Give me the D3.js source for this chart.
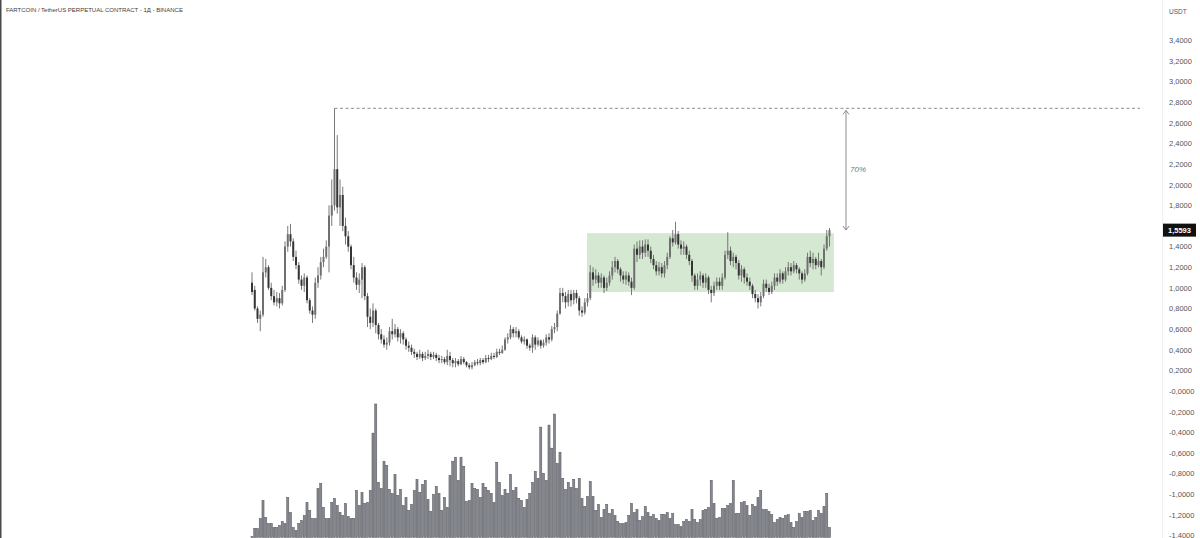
<!DOCTYPE html>
<html>
<head>
<meta charset="utf-8">
<script src="https://cdn.jsdelivr.net/npm/d3@7/dist/d3.min.js"></script>
<style>
html,body{margin:0;padding:0;background:#fff;}
svg{display:block;font-family:"Liberation Sans",Arial,sans-serif;}
</style>
</head>
<body>
<svg id="chart" width="1200" height="538"></svg>
<script>
const title = "FARTCOIN / TetherUS PERPETUAL CONTRACT - 1Д - BINANCE";
const currency = "USDT";

const opens = [1.05,0.98,0.80,0.70,0.74,1.15,1.20,1.00,0.92,0.86,
0.90,0.85,0.98,1.40,1.52,1.45,1.30,1.22,1.08,1.02,
1.10,0.88,0.78,0.74,1.05,1.12,1.25,1.30,1.40,1.70,
1.80,2.15,1.78,1.90,1.60,1.50,1.40,1.22,1.10,1.03,
1.08,1.20,0.92,0.72,0.66,0.78,0.64,0.55,0.50,0.45,
0.47,0.58,0.55,0.60,0.52,0.56,0.50,0.44,0.42,0.38,
0.36,0.33,0.36,0.32,0.34,0.36,0.33,0.35,0.32,0.30,
0.31,0.28,0.34,0.30,0.27,0.29,0.26,0.31,0.28,0.25,
0.23,0.25,0.28,0.27,0.30,0.28,0.32,0.31,0.34,0.33,
0.38,0.37,0.40,0.50,0.52,0.60,0.56,0.58,0.52,0.48,
0.50,0.44,0.42,0.52,0.45,0.49,0.44,0.47,0.52,0.50,
0.60,0.62,0.75,0.95,0.92,0.86,0.94,0.88,0.95,0.90,
0.78,0.76,0.86,0.90,1.15,1.08,1.12,1.05,1.10,1.00,
1.05,1.12,1.20,1.26,1.18,1.12,1.08,1.12,1.06,1.00,
1.38,1.32,1.40,1.34,1.42,1.36,1.28,1.22,1.16,1.20,
1.14,1.22,1.30,1.48,1.44,1.52,1.42,1.38,1.40,1.32,
1.26,1.12,1.02,1.08,1.12,1.05,1.10,0.98,0.95,1.02,
1.06,1.02,1.10,1.32,1.36,1.26,1.30,1.24,1.12,1.18,
1.10,1.06,1.02,0.94,0.90,0.86,0.92,1.04,1.00,0.96,
1.02,1.10,1.06,1.14,1.08,1.16,1.20,1.16,1.22,1.18,
1.14,1.08,1.14,1.30,1.24,1.28,1.22,1.26,1.20,1.38,
1.50];

const closes = [0.96,0.80,0.70,0.74,1.15,1.20,1.00,0.92,0.86,0.90,
0.85,0.98,1.40,1.52,1.45,1.30,1.22,1.08,1.02,1.10,
0.88,0.78,0.74,1.05,1.12,1.25,1.30,1.40,1.70,1.80,
2.15,1.78,1.90,1.60,1.50,1.40,1.22,1.10,1.03,1.08,
1.20,0.92,0.72,0.66,0.78,0.64,0.55,0.50,0.45,0.47,
0.58,0.55,0.60,0.52,0.56,0.50,0.44,0.42,0.38,0.36,
0.33,0.36,0.32,0.34,0.36,0.33,0.35,0.32,0.30,0.31,
0.28,0.34,0.30,0.27,0.29,0.26,0.31,0.28,0.25,0.23,
0.25,0.28,0.27,0.30,0.28,0.32,0.31,0.34,0.33,0.38,
0.37,0.40,0.50,0.52,0.60,0.56,0.58,0.52,0.48,0.50,
0.44,0.42,0.52,0.45,0.49,0.44,0.47,0.52,0.50,0.60,
0.62,0.75,0.95,0.92,0.86,0.94,0.88,0.95,0.90,0.78,
0.76,0.86,0.90,1.15,1.08,1.12,1.05,1.10,1.00,1.05,
1.12,1.20,1.26,1.18,1.12,1.08,1.12,1.06,1.00,1.38,
1.32,1.40,1.34,1.42,1.36,1.28,1.22,1.16,1.20,1.14,
1.22,1.30,1.48,1.44,1.52,1.42,1.38,1.40,1.32,1.26,
1.12,1.02,1.08,1.12,1.05,1.10,0.98,0.95,1.02,1.06,
1.02,1.10,1.32,1.36,1.26,1.30,1.24,1.12,1.18,1.10,
1.06,1.02,0.94,0.90,0.86,0.92,1.04,1.00,0.96,1.02,
1.10,1.06,1.14,1.08,1.16,1.20,1.16,1.22,1.18,1.14,
1.08,1.14,1.30,1.24,1.28,1.22,1.26,1.20,1.38,1.50,
1.5593];

const highs = [1.15,1.02,0.82,0.78,1.30,1.28,1.22,1.05,0.98,0.96,
0.95,1.02,1.45,1.60,1.62,1.48,1.36,1.25,1.12,1.14,
1.12,0.90,0.82,1.10,1.20,1.30,1.38,1.46,1.80,2.05,
2.74,2.48,2.05,1.98,1.68,1.55,1.42,1.30,1.15,1.14,
1.24,1.22,0.95,0.80,0.85,0.80,0.66,0.60,0.54,0.52,
0.62,0.70,0.65,0.62,0.60,0.58,0.52,0.48,0.45,0.41,
0.38,0.40,0.38,0.38,0.40,0.38,0.38,0.37,0.35,0.34,
0.33,0.40,0.38,0.32,0.32,0.31,0.34,0.33,0.29,0.27,
0.28,0.30,0.31,0.32,0.32,0.35,0.35,0.37,0.37,0.41,
0.41,0.44,0.52,0.56,0.64,0.62,0.62,0.60,0.54,0.53,
0.51,0.46,0.55,0.54,0.52,0.50,0.50,0.55,0.56,0.63,
0.66,0.78,1.00,1.00,0.96,0.98,0.98,0.98,0.98,0.92,
0.82,0.90,0.95,1.22,1.20,1.18,1.15,1.14,1.12,1.10,
1.16,1.26,1.30,1.28,1.20,1.16,1.16,1.15,1.10,1.42,
1.45,1.46,1.46,1.47,1.47,1.40,1.32,1.26,1.25,1.24,
1.26,1.34,1.50,1.56,1.64,1.55,1.46,1.45,1.42,1.36,
1.28,1.14,1.14,1.16,1.14,1.14,1.12,1.02,1.06,1.10,
1.10,1.14,1.36,1.54,1.40,1.34,1.32,1.27,1.22,1.20,
1.14,1.10,1.04,0.98,0.94,0.96,1.08,1.08,1.04,1.06,
1.14,1.14,1.18,1.16,1.20,1.25,1.24,1.26,1.24,1.20,
1.16,1.18,1.34,1.36,1.34,1.30,1.34,1.28,1.42,1.56,
1.58];

const lows = [0.93,0.78,0.66,0.58,0.72,1.10,0.98,0.88,0.83,0.82,
0.80,0.83,0.96,1.35,1.40,1.26,1.18,1.04,0.98,0.96,
0.85,0.75,0.66,0.70,1.00,1.08,1.20,1.28,1.15,1.60,
1.75,1.72,1.60,1.55,1.42,1.35,1.18,1.05,0.98,0.95,
0.90,0.88,0.62,0.60,0.62,0.56,0.50,0.46,0.42,0.40,
0.44,0.50,0.52,0.48,0.46,0.45,0.40,0.38,0.35,0.32,
0.30,0.31,0.29,0.30,0.31,0.30,0.31,0.29,0.27,0.27,
0.26,0.25,0.24,0.23,0.23,0.24,0.25,0.26,0.23,0.21,
0.21,0.24,0.25,0.25,0.26,0.27,0.28,0.30,0.31,0.32,
0.35,0.36,0.39,0.46,0.50,0.52,0.52,0.50,0.46,0.45,
0.41,0.39,0.37,0.40,0.43,0.41,0.42,0.44,0.46,0.48,
0.56,0.58,0.74,0.86,0.80,0.82,0.82,0.84,0.85,0.73,
0.72,0.74,0.82,0.88,1.02,1.04,1.00,1.00,0.95,0.97,
1.02,1.08,1.15,1.14,1.06,1.04,1.03,1.02,0.93,0.98,
1.25,1.28,1.28,1.30,1.30,1.24,1.18,1.12,1.12,1.10,
1.10,1.18,1.28,1.40,1.42,1.38,1.32,1.32,1.28,1.22,
1.06,0.98,0.98,1.02,1.00,1.00,0.94,0.86,0.92,0.98,
0.98,0.98,1.08,1.28,1.22,1.20,1.18,1.08,1.06,1.04,
1.02,0.98,0.90,0.86,0.80,0.82,0.90,0.96,0.93,0.94,
0.98,1.02,1.04,1.04,1.06,1.12,1.12,1.14,1.14,1.08,
1.04,1.06,1.12,1.20,1.18,1.18,1.20,1.12,1.18,1.36,
1.40];

const volumes = [1,9,9,19,37,20,14,14,10,10,
12,16,14,40,25,10,7,14,17,22,
35,27,19,19,49,54,30,19,19,35,
39,32,25,22,34,21,19,19,47,32,
45,34,35,47,104,133,55,49,76,72,
48,44,63,42,48,32,40,27,33,47,
58,45,53,57,38,26,43,51,44,27,
40,30,62,76,80,57,80,71,36,37,
54,49,48,40,54,50,47,44,35,75,
55,42,48,44,63,47,50,39,37,30,
38,44,55,66,59,110,64,57,112,89,
123,74,85,59,48,55,50,58,49,59,
39,31,41,56,41,27,33,20,28,33,
24,28,22,16,14,14,15,22,34,25,
28,17,21,31,25,21,23,19,17,23,
23,25,19,24,13,13,11,16,18,16,
28,18,15,18,27,28,30,57,34,19,
20,29,29,32,34,57,24,24,35,36,
32,22,33,31,40,47,28,28,26,23,
15,18,20,19,22,23,15,10,16,24,
20,26,26,27,17,20,27,24,31,44,
10];

const tickValues = [3.4,3.2,3.0,2.8,2.6,2.4,2.2,2.0,1.8,1.6,1.4,1.2,1.0,0.8,0.6,0.4,0.2,0,-0.2,-0.4,-0.6,-0.8,-1.0,-1.2,-1.4];
const tickLabels = ["3,4000","3,2000","3,0000","2,8000","2,6000","2,4000","2,2000","2,0000","1,8000","1,6000","1,4000","1,2000","1,0000","0,8000","0,6000","0,4000","0,2000","-0,0000","-0,2000","-0,4000","-0,6000","-0,8000","-1,0000","-1,2000","-1,4000"];

// annotations
const athIndex = 30, athValue = 2.74;
const rangeStart = 121.8, rangeEnd = 211.6, rangeTop = 1.53, rangeBottom = 0.96;
const arrowIndex = 216, arrowTop = 2.72, arrowBottom = 1.56;
const targetLabel = "70%";
const lastPrice = closes[closes.length - 1];
const lastPriceLabel = "1,5593";

const svg = d3.select("#chart");
const x = d3.scaleLinear().domain([0, 210]).range([252, 829.5]);
const y = d3.scaleLinear().domain([-1.4, 3.4]).range([535.5, 40.2]);
const yv = d3.scaleLinear().domain([0, 133]).range([537.5, 404]);

// left border
svg.append("line").attr("x1",0.75).attr("x2",0.75).attr("y1",0).attr("y2",538)
  .attr("stroke","#4a4a4a").attr("stroke-width",1.5);
// price-axis separator
svg.append("line").attr("x1",1162.5).attr("x2",1162.5).attr("y1",0).attr("y2",538)
  .attr("stroke","#efefef").attr("stroke-width",1);

// title
svg.append("text").attr("x",6).attr("y",12).attr("font-size",6).attr("fill","#3d3d3d")
  .text(title);

// range box
svg.append("rect")
  .attr("x", x(rangeStart)).attr("y", y(rangeTop))
  .attr("width", x(rangeEnd) - x(rangeStart)).attr("height", y(rangeBottom) - y(rangeTop))
  .attr("fill", "#d5e9d2");

// ATH dashed line
svg.append("line").attr("x1", x(athIndex)).attr("x2", 1140)
  .attr("y1", y(athValue)).attr("y2", y(athValue))
  .attr("stroke","#8a8a8a").attr("stroke-width",1).attr("stroke-dasharray","3,2.5");

// measurement arrow
const ax = x(arrowIndex);
svg.append("line").attr("x1",ax).attr("x2",ax).attr("y1",y(arrowTop)).attr("y2",y(arrowBottom))
  .attr("stroke","#8c8c8c").attr("stroke-width",1);
svg.append("path").attr("d",`M${ax-3},${y(arrowTop)+4}L${ax},${y(arrowTop)}L${ax+3},${y(arrowTop)+4}`)
  .attr("fill","none").attr("stroke","#8c8c8c").attr("stroke-width",1);
svg.append("path").attr("d",`M${ax-3},${y(arrowBottom)-4}L${ax},${y(arrowBottom)}L${ax+3},${y(arrowBottom)-4}`)
  .attr("fill","none").attr("stroke","#8c8c8c").attr("stroke-width",1);
svg.append("text").attr("x", x(arrowIndex)+4).attr("y", y((arrowTop+arrowBottom)/2)+2)
  .attr("font-size",8).attr("font-style","italic").attr("fill","#6f7d6f").text(targetLabel);

// volume bars
const bw = 2.1;
svg.append("g").selectAll("rect").data(volumes).join("rect")
  .attr("x",(d,i)=>x(i)-bw/2).attr("y",d=>yv(d))
  .attr("width",bw).attr("height",d=>yv(0)-yv(d))
  .attr("fill","#85878f").attr("stroke","#55575d").attr("stroke-width",0.5);

// candles
const candles = opens.map((o,i)=>({i, o, h:highs[i], l:lows[i], c:closes[i]}));
const cg = svg.append("g");
cg.selectAll("line").data(candles).join("line")
  .attr("x1",d=>x(d.i)).attr("x2",d=>x(d.i))
  .attr("y1",d=>y(d.h)).attr("y2",d=>y(d.l))
  .attr("stroke","#6a6a6a").attr("stroke-width",0.9);
cg.selectAll("rect").data(candles).join("rect")
  .attr("x",d=>x(d.i)-1).attr("width",2)
  .attr("y",d=>y(Math.max(d.o,d.c)))
  .attr("height",d=>Math.max(1, Math.abs(y(d.o)-y(d.c))))
  .attr("fill",d=>d.c>=d.o ? "#707070" : "#353535");

// price axis
const axis = d3.axisRight(y).tickValues(tickValues).tickSize(0)
  .tickFormat((d,i)=>tickLabels[i]);
const ag = svg.append("g").attr("transform","translate(1166,0)").call(axis);
ag.select(".domain").remove();
ag.selectAll("text").attr("x",3).attr("font-size",7.5).attr("fill","#555")
  .attr("font-family","\"Liberation Sans\",Arial,sans-serif");

svg.append("text").attr("x",1169).attr("y",14).attr("font-size",6.5).attr("fill","#555").text(currency);

// last price label
const ly = y(lastPrice);
svg.append("rect").attr("x",1163).attr("y",ly-6.5).attr("width",33).attr("height",13).attr("fill","#111");
svg.append("text").attr("x",1179.5).attr("y",ly+2.7).attr("text-anchor","middle")
  .attr("font-size",7.5).attr("font-weight","bold").attr("fill","#fff").text(lastPriceLabel);
</script>
</body>
</html>
